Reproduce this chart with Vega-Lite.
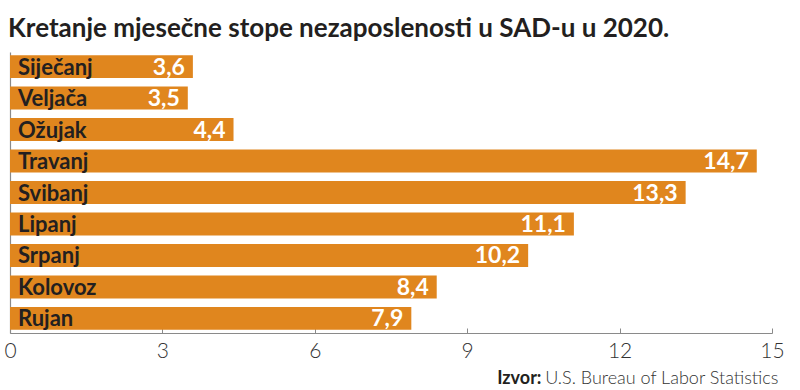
{
  "$schema": "https://vega.github.io/schema/vega-lite/v6.json",
  "width": 762,
  "height": 281,
  "autosize": "none",
  "padding": {"left": 10, "top": 52, "right": 28, "bottom": 57},
  "background": "white",
  "config": {
    "view": {"stroke": null},
    "locale": {"number": {"decimal": ",", "thousands": ".", "grouping": [3], "currency": ["", " €"]}}
  },
  "title": {
    "text": "Kretanje mjesečne stope nezaposlenosti u SAD-u u 2020.",
    "anchor": "start",
    "frame": "group",
    "font": "Lato",
    "fontSize": 26,
    "fontWeight": "bold",
    "color": "#231f20",
    "baseline": "alphabetic",
    "offset": 16,
    "dx": -2,
    "dy": 27
  },
  "data": {
    "values": [
      {"month": "Siječanj", "rate": 3.6},
      {"month": "Veljača", "rate": 3.5},
      {"month": "Ožujak", "rate": 4.4},
      {"month": "Travanj", "rate": 14.7},
      {"month": "Svibanj", "rate": 13.3},
      {"month": "Lipanj", "rate": 11.1},
      {"month": "Srpanj", "rate": 10.2},
      {"month": "Kolovoz", "rate": 8.4},
      {"month": "Rujan", "rate": 7.9}
    ]
  },
  "encoding": {
    "y": {
      "field": "month",
      "type": "nominal",
      "sort": null,
      "scale": {"paddingInner": 0.27, "paddingOuter": 0.1},
      "axis": {
        "labels": false,
        "ticks": false,
        "domainColor": "#8a8a8a",
        "domainWidth": 1.2,
        "title": "Izvor:",
        "titleAngle": 0,
        "titleAlign": "right",
        "titleBaseline": "alphabetic",
        "titleX": 531,
        "titleY": 331,
        "titleFont": "Lato",
        "titleFontSize": 18,
        "titleFontWeight": "bold",
        "titleColor": "#231f20"
      }
    }
  },
  "layer": [
    {
      "mark": {"type": "bar", "color": "#e0861e"},
      "encoding": {
        "x": {
          "field": "rate",
          "type": "quantitative",
          "scale": {"domain": [0, 15], "nice": false},
          "axis": {
            "values": [0, 3, 6, 9, 12, 15],
            "grid": false,
            "format": "d",
            "domainColor": "#8a8a8a",
            "domainWidth": 1.2,
            "tickColor": "#8a8a8a",
            "tickSize": -5,
            "labelPadding": 12,
            "labelFont": "Lato",
            "labelFontSize": 21,
            "labelFontWeight": 300,
            "labelColor": "#333333",
            "labelFlush": false,
            "title": "U.S. Bureau of Labor Statistics",
            "titleAnchor": "end",
            "titleAlign": "right",
            "titleBaseline": "alphabetic",
            "titleX": 768,
            "titleY": 50,
            "titleFont": "Lato",
            "titleFontSize": 18,
            "titleFontWeight": 300,
            "titleColor": "#333333"
          }
        }
      }
    },
    {
      "mark": {
        "type": "text",
        "align": "left",
        "baseline": "middle",
        "dx": 8,
        "dy": 1,
        "font": "Lato",
        "fontSize": 22,
        "fontWeight": "bold",
        "color": "#231f20"
      },
      "encoding": {
        "x": {"datum": 0, "type": "quantitative"},
        "text": {"field": "month"}
      }
    },
    {
      "mark": {
        "type": "text",
        "align": "right",
        "baseline": "middle",
        "dx": -8,
        "dy": 1,
        "font": "Lato",
        "fontSize": 23,
        "fontWeight": "bold",
        "color": "white"
      },
      "encoding": {
        "x": {"field": "rate", "type": "quantitative"},
        "text": {"field": "rate", "format": ".1f"}
      }
    }
  ]
}
